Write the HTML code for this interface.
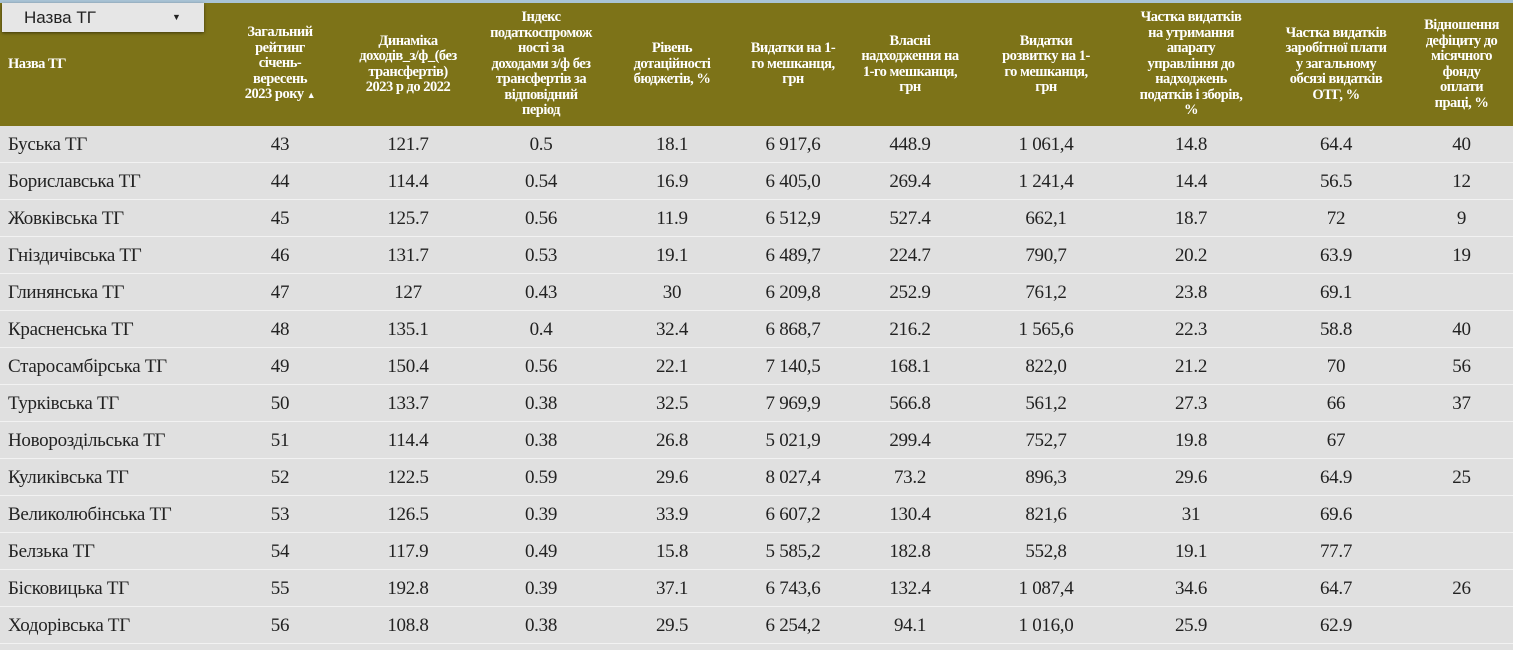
<!DOCTYPE html>
<html><head><meta charset="utf-8"><style>
body{margin:0;width:1513px;height:650px;overflow:hidden;background:#e0e0e0;font-family:"Liberation Serif",serif}
.top{position:absolute;left:0;top:0;width:1513px;height:3px;background:#a9c4d6}
table{position:absolute;left:0;top:3px;border-collapse:collapse;table-layout:fixed;width:1513px}
th{background:#7d7318;color:#fff;font-weight:bold;font-size:14.5px;line-height:15.5px;height:123px;padding:0;text-align:center;vertical-align:middle;letter-spacing:-0.5px;white-space:nowrap;overflow:visible}
th.n{text-align:left;padding-left:8px}
td{height:34px;border-bottom:1px solid #f2f2f2;font-size:19px;color:#222;text-align:center;padding:2px 0 0 0;letter-spacing:-0.3px}
td.n{text-align:left;padding-left:8px}
.dd{position:absolute;left:2px;top:3px;width:202px;height:29px;background:#e6e6e6;box-shadow:0 1px 3px rgba(0,0,0,.5);font-family:"Liberation Sans",sans-serif;font-size:17px;color:#222;line-height:29px;box-sizing:border-box;padding-left:22px}
.dd span{position:absolute;left:170px;top:0;font-size:9px}
</style></head><body>
<div class="top"></div>
<table>
<colgroup><col style="width:220px"><col style="width:120px"><col style="width:136px"><col style="width:130px"><col style="width:132px"><col style="width:110px"><col style="width:124px"><col style="width:148px"><col style="width:142px"><col style="width:148px"><col style="width:103px"></colgroup>
<tr><th class="n">Назва ТГ</th><th>Загальний<br>рейтинг<br>січень-<br>вересень<br>2023 року <span style="font-size:9px">▲</span></th><th>Динаміка<br>доходів_з/ф_(без<br>трансфертів)<br>2023 р до 2022</th><th>Індекс<br>податкоспромож<br>ності за<br>доходами з/ф без<br>трансфертів за<br>відповідний<br>період</th><th>Рівень<br>дотаційності<br>бюджетів, %</th><th>Видатки на 1-<br>го мешканця,<br>грн</th><th>Власні<br>надходження на<br>1-го мешканця,<br>грн</th><th>Видатки<br>розвитку на 1-<br>го мешканця,<br>грн</th><th>Частка видатків<br>на утримання<br>апарату<br>управління до<br>надходжень<br>податків і зборів,<br>%</th><th>Частка видатків<br>заробітної плати<br>у загальному<br>обсязі видатків<br>ОТГ, %</th><th>Відношення<br>дефіциту до<br>місячного<br>фонду<br>оплати<br>праці, %</th></tr>
<tr><td class="n">Буська ТГ</td><td>43</td><td>121.7</td><td>0.5</td><td>18.1</td><td>6 917,6</td><td>448.9</td><td>1 061,4</td><td>14.8</td><td>64.4</td><td>40</td></tr>
<tr><td class="n">Бориславська ТГ</td><td>44</td><td>114.4</td><td>0.54</td><td>16.9</td><td>6 405,0</td><td>269.4</td><td>1 241,4</td><td>14.4</td><td>56.5</td><td>12</td></tr>
<tr><td class="n">Жовківська ТГ</td><td>45</td><td>125.7</td><td>0.56</td><td>11.9</td><td>6 512,9</td><td>527.4</td><td>662,1</td><td>18.7</td><td>72</td><td>9</td></tr>
<tr><td class="n">Гніздичівська ТГ</td><td>46</td><td>131.7</td><td>0.53</td><td>19.1</td><td>6 489,7</td><td>224.7</td><td>790,7</td><td>20.2</td><td>63.9</td><td>19</td></tr>
<tr><td class="n">Глинянська ТГ</td><td>47</td><td>127</td><td>0.43</td><td>30</td><td>6 209,8</td><td>252.9</td><td>761,2</td><td>23.8</td><td>69.1</td><td></td></tr>
<tr><td class="n">Красненська ТГ</td><td>48</td><td>135.1</td><td>0.4</td><td>32.4</td><td>6 868,7</td><td>216.2</td><td>1 565,6</td><td>22.3</td><td>58.8</td><td>40</td></tr>
<tr><td class="n">Старосамбірська ТГ</td><td>49</td><td>150.4</td><td>0.56</td><td>22.1</td><td>7 140,5</td><td>168.1</td><td>822,0</td><td>21.2</td><td>70</td><td>56</td></tr>
<tr><td class="n">Турківська ТГ</td><td>50</td><td>133.7</td><td>0.38</td><td>32.5</td><td>7 969,9</td><td>566.8</td><td>561,2</td><td>27.3</td><td>66</td><td>37</td></tr>
<tr><td class="n">Новороздільська ТГ</td><td>51</td><td>114.4</td><td>0.38</td><td>26.8</td><td>5 021,9</td><td>299.4</td><td>752,7</td><td>19.8</td><td>67</td><td></td></tr>
<tr><td class="n">Куликівська ТГ</td><td>52</td><td>122.5</td><td>0.59</td><td>29.6</td><td>8 027,4</td><td>73.2</td><td>896,3</td><td>29.6</td><td>64.9</td><td>25</td></tr>
<tr><td class="n">Великолюбінська ТГ</td><td>53</td><td>126.5</td><td>0.39</td><td>33.9</td><td>6 607,2</td><td>130.4</td><td>821,6</td><td>31</td><td>69.6</td><td></td></tr>
<tr><td class="n">Белзька ТГ</td><td>54</td><td>117.9</td><td>0.49</td><td>15.8</td><td>5 585,2</td><td>182.8</td><td>552,8</td><td>19.1</td><td>77.7</td><td></td></tr>
<tr><td class="n">Бісковицька ТГ</td><td>55</td><td>192.8</td><td>0.39</td><td>37.1</td><td>6 743,6</td><td>132.4</td><td>1 087,4</td><td>34.6</td><td>64.7</td><td>26</td></tr>
<tr><td class="n">Ходорівська ТГ</td><td>56</td><td>108.8</td><td>0.38</td><td>29.5</td><td>6 254,2</td><td>94.1</td><td>1 016,0</td><td>25.9</td><td>62.9</td><td></td></tr>
</table>
<div class="dd">Назва ТГ<span>▼</span></div>
</body></html>
